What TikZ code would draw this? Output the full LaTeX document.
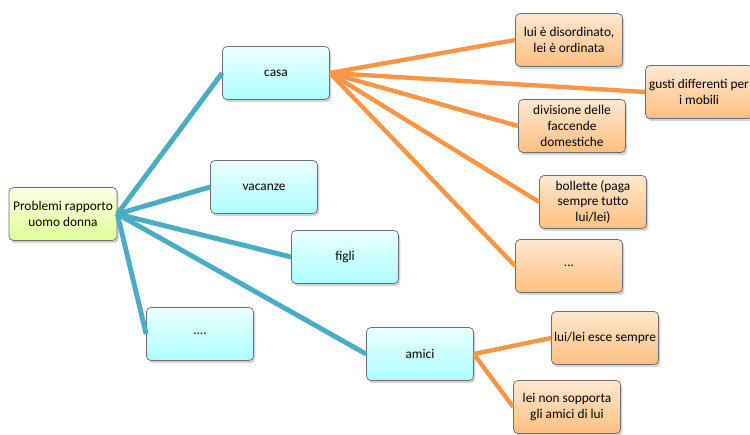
\documentclass[tikz,border=0pt]{standalone}
\usepackage{fontspec}
\setmainfont{Carlito}
\usepackage{tikz}
\usetikzlibrary{positioning,shadows}
\usepackage{xcolor}

\definecolor{lineblue}{RGB}{75,172,198}
\definecolor{lineorange}{RGB}{247,150,70}
\definecolor{boxedge}{RGB}{110,110,110}

\tikzset{
  box/.style={draw=boxedge, thin, rounded corners=2.5pt, minimum width=2.14cm,
              minimum height=1.06cm, align=center, inner sep=1pt,
              font=\fontsize{7.6}{9}\selectfont,
              drop shadow={shadow xshift=1pt, shadow yshift=-1.5pt, opacity=0.35}},
  rootbox/.style={box, top color=green!8!yellow!12, bottom color=green!30!yellow!40},
  bluebox/.style={box, top color=cyan!8, bottom color=cyan!32},
  orangebox/.style={box, top color=orange!18, bottom color=orange!50},
  blueline/.style={lineblue, line width=2.8pt},
  orangeline/.style={lineorange, line width=2.5pt}
}

\begin{document}
\begin{tikzpicture}[x=0.02cm, y=-0.02cm]
\useasboundingbox (0,0) rectangle (750,435);

% Root and first level
\node[rootbox, minimum width=2.16cm] (root) at (63,214) {Problemi rapporto\\uomo donna};
\node[bluebox] (casa) at (276,73) {casa};
\node[bluebox] (vacanze) at (264,187) {vacanze};
\node[bluebox] (figli) at (345,257) {figli};
\node[bluebox] (altro) at (200,334) {....};
\node[bluebox] (amici) at (420,354) {amici};

% Second level
\node[orangebox] (ordine) at (569,40) {lui è disordinato,\\lei è ordinata};
\node[orangebox] (mobili) at (699,92) {gusti differenti per\\i mobili};
\node[orangebox] (faccende) at (572,126) {divisione delle\\faccende\\domestiche};
\node[orangebox] (bollette) at (593,202) {bollette (paga\\sempre tutto\\lui/lei)};
\node[orangebox] (puntini) at (569,266) {...};
\node[orangebox] (esce) at (605,338) {lui/lei esce sempre};
\node[orangebox] (sopporta) at (567,407) {lei non sopporta\\gli amici di lui};

% Connectors
\foreach \b in {casa,vacanze,figli,altro,amici}
  \draw[blueline] (root.east) -- (\b.west);
\foreach \o in {ordine,mobili,faccende,bollette,puntini}
  \draw[orangeline] (casa.east) -- (\o.west);
\foreach \o in {esce,sopporta}
  \draw[orangeline] (amici.east) -- (\o.west);

\end{tikzpicture}
\end{document}
